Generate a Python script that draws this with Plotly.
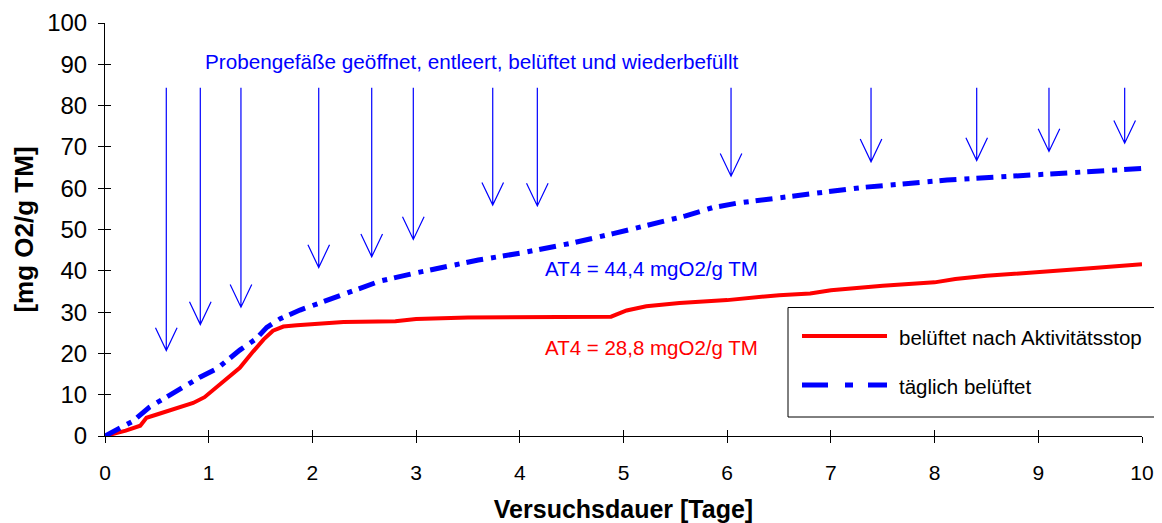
import plotly.graph_objects as go

# ---------------- data ----------------
days_red = [0, 0.2, 0.34, 0.40, 0.5, 0.6, 0.72, 0.85, 0.96, 1.1, 1.3, 1.43, 1.53, 1.62, 1.72,
            1.85, 2.0, 2.3, 2.8, 3.0, 3.5, 4.0, 4.5, 4.88, 5.03, 5.22, 5.54, 6.0, 6.5, 6.8,
            7.0, 7.5, 8.0, 8.2, 8.5, 9.0, 9.5, 10.0]
o2_red = [0, 1.3, 2.5, 4.4, 5.2, 6.0, 6.8, 8.0, 9.4, 12.3, 16.5, 20.5, 23.4, 25.5, 26.5,
          26.8, 27.1, 27.6, 27.8, 28.3, 28.7, 28.8, 28.8, 28.9, 30.4, 31.4, 32.2, 32.9, 34.1, 34.5,
          35.3, 36.4, 37.2, 38.0, 38.8, 39.6, 40.6, 41.6]

days_blue = [0, 0.27, 0.43, 0.59, 0.72, 0.92, 1.08, 1.3, 1.46, 1.56, 1.69, 1.88, 2.07, 2.36,
             2.65, 3.0, 3.29, 3.6, 4.03, 4.5, 4.9, 5.22, 5.6, 5.86, 6.1, 6.51, 7.0, 7.31, 8.0,
             8.12, 9.08, 10.0]
o2_blue = [0, 3.6, 7.0, 9.4, 11.0, 14.3, 16.3, 20.8, 23.6, 26.3, 28.4, 30.5, 32.2, 34.9,
           37.5, 39.5, 41.0, 42.6, 44.4, 46.7, 49.0, 51.0, 53.3, 55.3, 56.4, 57.7, 59.3, 60.2, 61.7,
           62.0, 63.4, 64.8]

arrow_days = [0.591, 0.919, 1.311, 2.061, 2.572, 2.973, 3.739, 4.169, 6.037, 7.387, 8.406, 9.103, 9.833]
arrow_tip = [20.7, 27.0, 31.2, 40.8, 43.4, 47.6, 55.9, 55.7, 62.9, 66.4, 66.7, 68.9, 70.9]
arrow_top = 84.3

series_names = ["belüftet nach Aktivitätsstop", "täglich belüftet"]
x_ticks = list(range(0, 11))
y_ticks = list(range(0, 101, 10))

note_text = "Probengefäße geöffnet, entleert, belüftet und wiederbefüllt"
at4_blue_text = "AT4 = 44,4 mgO2/g TM"
at4_red_text = "AT4 = 28,8 mgO2/g TM"

# ---------------- layout constants ----------------
OFF = 8  # default page body margin
W, H = 1162 - OFF, 523 - OFF
ML, MR, MT, MB = 97, 20, 15, 87
PW, PH = W - ML - MR, H - MT - MB
X_RANGE, Y_RANGE = (0, 10), (0, 100)
px_per_day = PW / (X_RANGE[1] - X_RANGE[0])
px_per_unit = PH / (Y_RANGE[1] - Y_RANGE[0])
FONT = "Liberation Sans, Arial, sans-serif"
BLUE, RED = "#0000ff", "#ff0000"
DASHDOT = "17px,8px,5px,7px"


def px_x(px):
    """page pixel -> paper x"""
    return (px - OFF - ML) / PW


def px_y(py):
    """page pixel -> paper y"""
    return (H - MB - (py - OFF)) / PH


fig = go.Figure()
fig.add_trace(go.Scatter(x=days_red, y=o2_red, mode="lines", name=series_names[0],
                         line=dict(color=RED, width=4), showlegend=False))
fig.add_trace(go.Scatter(x=days_blue, y=o2_blue, mode="lines", name=series_names[1],
                         line=dict(color=BLUE, width=5, dash=DASHDOT), showlegend=False))
# dummy trace to make the overlay axes (inside tick marks) render
fig.add_trace(go.Scatter(x=[None], y=[None], xaxis="x2", yaxis="y2", showlegend=False,
                         hoverinfo="skip"))

# arrows (open V heads)
hw = 10.8 / px_per_day
hl = 22.7 / px_per_unit
for xa, tip in zip(arrow_days, arrow_tip):
    path = (f"M{xa},{arrow_top} L{xa},{tip} "
            f"M{xa - hw},{tip + hl} L{xa},{tip} L{xa + hw},{tip + hl}")
    fig.add_shape(type="path", path=path, xref="x", yref="y",
                  line=dict(color=BLUE, width=1.2))

# annotations
fig.add_annotation(x=0.945, y=90.6, xref="x", yref="y", text=note_text, showarrow=False,
                   xanchor="left", yanchor="middle", font=dict(family=FONT, size=20.7, color=BLUE))
fig.add_annotation(x=4.22, y=40.6, xref="x", yref="y", text=at4_blue_text, showarrow=False,
                   xanchor="left", yanchor="middle", font=dict(family=FONT, size=20.5, color=BLUE))
fig.add_annotation(x=4.22, y=21.4, xref="x", yref="y", text=at4_red_text, showarrow=False,
                   xanchor="left", yanchor="middle", font=dict(family=FONT, size=20.5, color=RED))

# custom legend box
fig.add_shape(type="rect", xref="paper", yref="paper",
              x0=px_x(788), x1=px_x(1157), y0=px_y(417), y1=px_y(307.5),
              line=dict(color="black", width=1), fillcolor="white", layer="above")
fig.add_shape(type="line", xref="paper", yref="paper", x0=px_x(802), x1=px_x(887),
              y0=px_y(336), y1=px_y(336), line=dict(color=RED, width=4), layer="above")
fig.add_shape(type="line", xref="paper", yref="paper", x0=px_x(802), x1=px_x(887),
              y0=px_y(385), y1=px_y(385), line=dict(color=BLUE, width=5, dash="26px,17px,8px,15px"),
              layer="above")
fig.add_annotation(x=px_x(897), y=px_y(337), xref="paper", yref="paper", text=series_names[0],
                   showarrow=False, xanchor="left", yanchor="middle",
                   font=dict(family=FONT, size=20.5, color="black"))
fig.add_annotation(x=px_x(897), y=px_y(386), xref="paper", yref="paper", text=series_names[1],
                   showarrow=False, xanchor="left", yanchor="middle",
                   font=dict(family=FONT, size=20.5, color="black"))

axis_common = dict(showgrid=False, zeroline=False, tickcolor="black", tickwidth=1, ticklen=6)
fig.update_layout(
    width=W, height=H, autosize=False,
    margin=dict(l=ML, r=MR, t=MT, b=MB, pad=0),
    paper_bgcolor="white", plot_bgcolor="white",
    font=dict(family=FONT, color="black"),
    xaxis=dict(range=list(X_RANGE), tickvals=x_ticks, ticks="outside", showline=True,
               linecolor="black", linewidth=1, tickfont=dict(size=21), ticklabelstandoff=12,
               title=dict(text="<b>Versuchsdauer [Tage]</b>", font=dict(size=25), standoff=17),
               automargin=False, **axis_common),
    yaxis=dict(range=list(Y_RANGE), tickvals=y_ticks, ticks="outside", showline=True,
               linecolor="black", linewidth=1, tickfont=dict(size=24), ticklabelstandoff=6,
               title=dict(text="<b>[mg O2/g TM]</b>", font=dict(size=26), standoff=6),
               automargin=False, **axis_common),
    xaxis2=dict(range=list(X_RANGE), tickvals=x_ticks, ticks="inside", overlaying="x",
                anchor="y2", side="bottom", showticklabels=False, showline=False, **axis_common),
    yaxis2=dict(range=list(Y_RANGE), tickvals=y_ticks, ticks="inside", overlaying="y",
                anchor="x2", side="left", showticklabels=False, showline=False, **axis_common),
    showlegend=False,
)

fig.write_html("out.html")
